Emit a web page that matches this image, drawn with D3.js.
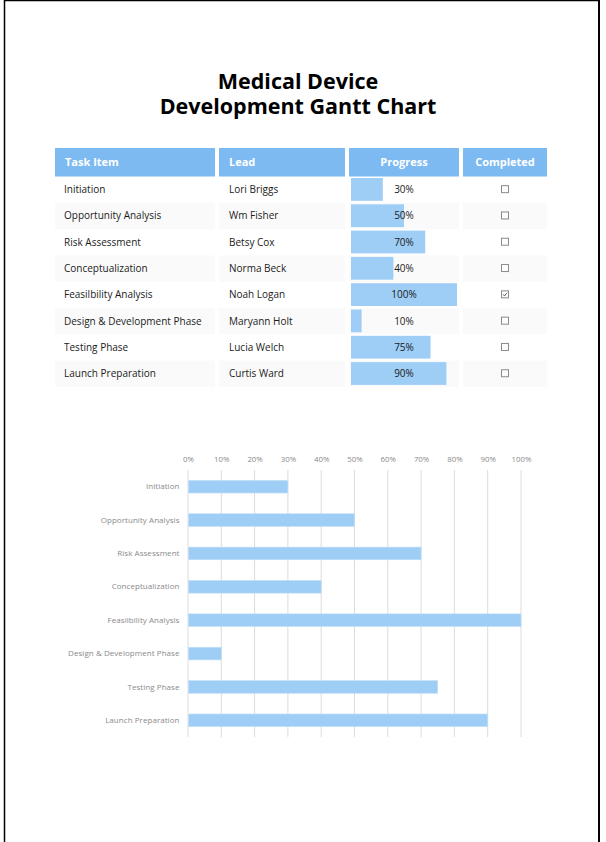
<!DOCTYPE html>
<html>
<head>
<meta charset="utf-8">
<script src="https://cdn.jsdelivr.net/npm/d3@7"></script>
<style>
  html, body { margin: 0; padding: 0; background: #fff; }
  svg { display: block; }
</style>
</head>
<body>
<svg id="page" width="606" height="842"></svg>
<script>
const titleLines = ["Medical Device", "Development Gantt Chart"];
const headers = ["Task Item", "Lead", "Progress", "Completed"];
const tasks = ["Initiation", "Opportunity Analysis", "Risk Assessment", "Conceptualization",
  "Feasilbility Analysis", "Design & Development Phase", "Testing Phase", "Launch Preparation"];
const leads = ["Lori Briggs", "Wm Fisher", "Betsy Cox", "Norma Beck", "Noah Logan",
  "Maryann Holt", "Lucia Welch", "Curtis Ward"];
const progress = [30, 50, 70, 40, 100, 10, 75, 90];
const completed = [false, false, false, false, true, false, false, false];
const xTicks = [0, 10, 20, 30, 40, 50, 60, 70, 80, 90, 100];

const svg = d3.select("#page");
const FONT = "'Open Sans', 'Noto Sans', sans-serif";

// page border
svg.append("line").attr("x1", 4.5).attr("x2", 4.5).attr("y1", 0).attr("y2", 842).attr("stroke", "#000").attr("stroke-width", 1.5);
svg.append("line").attr("x1", 4).attr("x2", 599).attr("y1", 0.5).attr("y2", 0.5).attr("stroke", "#000").attr("stroke-width", 1.5);
svg.append("line").attr("x1", 599).attr("x2", 599).attr("y1", 0).attr("y2", 842).attr("stroke", "#000").attr("stroke-width", 2);

// title (one text element, two lines)
const title = svg.append("text")
  .attr("text-anchor", "middle")
  .attr("font-family", FONT).attr("font-weight", 700).attr("font-size", 21.5)
  .attr("fill", "#000");
title.selectAll("tspan").data(titleLines).join("tspan")
  .attr("x", 298).attr("y", (d, i) => 89 + i * 25).text(d => d);

// table
const cols = [
  {x: 55, w: 160, align: "start", pad: 10},
  {x: 219, w: 126, align: "start", pad: 10},
  {x: 349, w: 110, align: "middle"},
  {x: 463, w: 84, align: "middle"}
];
const headerY = 148, headerH = 28.5;
const rowTop = 176.5;
const rowScale = d3.scaleBand().domain(d3.range(tasks.length)).range([rowTop, rowTop + 26.3 * tasks.length]);
const rowH = rowScale.bandwidth();
const tbl = svg.append("g");

const hdr = tbl.append("g");
hdr.selectAll("rect").data(cols).join("rect")
  .attr("x", d => d.x).attr("y", headerY).attr("width", d => d.w).attr("height", headerH)
  .attr("fill", "#7dbaf1");
hdr.selectAll("text").data(headers).join("text")
  .attr("x", (d, i) => cols[i].align === "start" ? cols[i].x + cols[i].pad : cols[i].x + cols[i].w / 2)
  .attr("y", headerY + headerH / 2 + 4)
  .attr("text-anchor", (d, i) => cols[i].align)
  .attr("font-family", FONT).attr("font-weight", 700).attr("font-size", 11)
  .attr("fill", "#fff").text(d => d);

const rows = tbl.selectAll("g.row").data(tasks).join("g").attr("class", "row")
  .attr("transform", (d, i) => `translate(0,${rowScale(i)})`);

rows.each(function(d, i) {
  const g = d3.select(this);
  if (i % 2 === 1) {
    g.selectAll("rect.bg").data(cols).join("rect").attr("class", "bg")
      .attr("x", c => c.x).attr("y", 0).attr("width", c => c.w).attr("height", rowH)
      .attr("fill", "#fafafa");
  }
});

rows.append("text").attr("x", cols[0].x + 9).attr("y", rowH / 2 + 3.5)
  .attr("font-family", FONT).attr("font-size", 10).attr("fill", "#1a1a1a").text(d => d);
rows.append("text").attr("x", cols[1].x + 10).attr("y", rowH / 2 + 3.5)
  .attr("font-family", FONT).attr("font-size", 10).attr("fill", "#1a1a1a").text((d, i) => leads[i]);

const pScale = d3.scaleLinear().domain([0, 100]).range([0, 106]);
rows.append("rect").attr("x", 351).attr("y", 1.5)
  .attr("width", (d, i) => pScale(progress[i])).attr("height", rowH - 3.5)
  .attr("fill", "#9ecdf5");
rows.append("text").attr("x", cols[2].x + cols[2].w / 2).attr("y", rowH / 2 + 3.5)
  .attr("text-anchor", "middle")
  .attr("font-family", FONT).attr("font-size", 10).attr("fill", "#1a1a1a")
  .text((d, i) => progress[i] + "%");

const cbx = cols[3].x + cols[3].w / 2;
rows.append("rect").attr("x", cbx - 3.5).attr("y", rowH / 2 - 4)
  .attr("width", 7).attr("height", 7)
  .attr("fill", "#fdfdfd").attr("stroke", "#8a8a8a").attr("stroke-width", 1);
rows.filter((d, i) => completed[i]).append("path")
  .attr("d", `M${cbx - 1.8},${rowH / 2 - 0.5} L${cbx - 0.5},${rowH / 2 + 1.2} L${cbx + 1.8},${rowH / 2 - 2}`)
  .attr("fill", "none").attr("stroke", "#555").attr("stroke-width", 0.9);

// bar chart
const x = d3.scaleLinear().domain([0, 100]).range([188, 521]);
const y = d3.scaleBand().domain(tasks).range([470, 737]).paddingInner(0.62).paddingOuter(0.31);
const chart = svg.append("g");

chart.append("g").selectAll("line").data(xTicks).join("line")
  .attr("x1", d => x(d)).attr("x2", d => x(d)).attr("y1", 470).attr("y2", 737)
  .attr("stroke", "#dcdcdc").attr("stroke-width", 1);

const xAxis = chart.append("g").attr("transform", "translate(0,462)")
  .call(d3.axisTop(x).tickValues(xTicks).tickFormat(d => d + "%").tickSize(0).tickPadding(0));
xAxis.select(".domain").remove();
xAxis.selectAll("text").attr("font-family", FONT).attr("font-size", 7.8).attr("fill", "#8a8a8a");

const yAxis = chart.append("g").attr("transform", "translate(179.5,0)")
  .call(d3.axisLeft(y).tickSize(0).tickPadding(0));
yAxis.select(".domain").remove();
yAxis.selectAll("text").attr("font-family", FONT).attr("font-size", 8).attr("fill", "#8a8a8a")
  .attr("letter-spacing", 0.05);

chart.append("g").selectAll("rect").data(tasks).join("rect")
  .attr("x", x(0) + 0.5).attr("y", d => y(d))
  .attr("width", (d, i) => x(progress[i]) - x(0) - 0.5).attr("height", y.bandwidth())
  .attr("fill", "#9ecdf5").attr("stroke", "#c4e0f9").attr("stroke-width", 0.6);
</script>
</body>
</html>
